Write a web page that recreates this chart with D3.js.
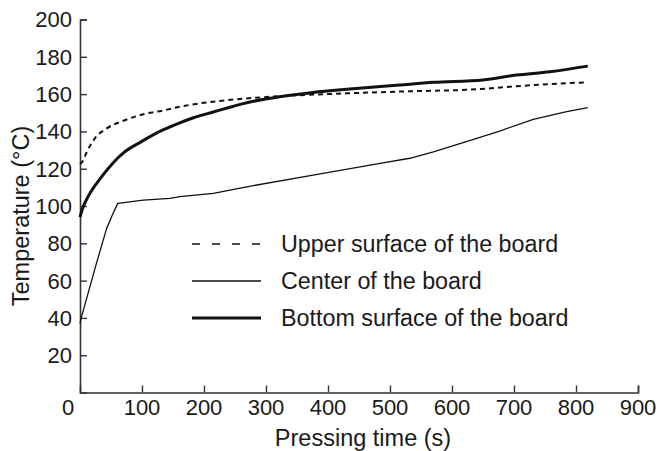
<!DOCTYPE html>
<html>
<head>
<meta charset="utf-8">
<script src="https://cdn.jsdelivr.net/npm/d3@7"></script>
<style>
  html, body { margin: 0; padding: 0; background: #fff; }
  svg { display: block; font-family: "Liberation Sans", Arial, sans-serif; }
</style>
</head>
<body>
<svg id="chart" width="660" height="451"></svg>
<script>
// Temperature readings during hot pressing (time in s, temperature in °C)
const upperTime = [0, 4, 11, 24, 43, 70, 102, 134, 161, 177, 230, 295, 430, 543, 623, 730, 815];
const upperTemp = [122.5, 123.8, 129, 136.3, 141.6, 145.7, 149.2, 151.2, 153.2, 154.2, 156.5, 158.3, 160.4, 161.6, 162.3, 164.8, 166.3];

const centerTime = [0, 2, 25, 43, 52, 61, 102, 145, 161, 215, 269, 376, 484, 532, 570, 623, 677, 731, 785, 819];
const centerTemp = [37, 40, 67.5, 88, 95, 101.4, 103.2, 104.1, 105, 106.8, 110.3, 116.6, 122.9, 125.6, 129, 134.5, 140.2, 146.5, 150.6, 152.7];

const bottomTime = [0, 4, 13, 35, 70, 99, 132, 161, 183, 215, 269, 322, 376, 430, 516, 570, 650, 704, 758, 819];
const bottomTemp = [94, 98.5, 105, 115.7, 128.5, 134.5, 140.5, 144.6, 147.3, 150.4, 155.4, 158.6, 160.9, 162.6, 164.9, 166.3, 167.6, 170.2, 172, 175];

const seriesNames = ["Upper surface of the board", "Center of the board", "Bottom surface of the board"];
const xTicks = [100, 200, 300, 400, 500, 600, 700, 800, 900];
const yTicks = [20, 40, 60, 80, 100, 120, 140, 160, 180, 200];

const svg = d3.select("#chart");
const ink = "#1a1a1a";

const x = d3.scaleLinear().domain([0, 900]).range([80, 638]);
const y = d3.scaleLinear().domain([0, 200]).range([392.5, 19.5]);

// Axes: ticks point into the plot area
const xAxis = svg.append("g")
  .attr("transform", `translate(0,${y(0)})`)
  .call(d3.axisTop(x).tickValues(xTicks).tickSize(7).tickFormat(""));
const yAxis = svg.append("g")
  .attr("transform", `translate(${x(0)},0)`)
  .call(d3.axisRight(y).tickValues(yTicks).tickSize(7).tickFormat(""));
[xAxis, yAxis].forEach(g => {
  g.select(".domain").attr("stroke", "#333").attr("stroke-width", 1.6);
  g.selectAll(".tick line").attr("stroke", "#333").attr("stroke-width", 1.4);
});

// Tick labels
svg.append("g").selectAll("text").data(xTicks).join("text")
  .attr("x", d => x(d)).attr("y", 415)
  .attr("text-anchor", "middle")
  .attr("font-size", 22).attr("fill", ink)
  .text(d => d);
svg.append("text")
  .attr("x", x(0) - 12).attr("y", 415)
  .attr("text-anchor", "middle")
  .attr("font-size", 22).attr("fill", ink)
  .text("0");
svg.append("g").selectAll("text").data(yTicks).join("text")
  .attr("x", 72).attr("y", d => y(d))
  .attr("dy", "0.36em")
  .attr("text-anchor", "end")
  .attr("font-size", 22).attr("fill", ink)
  .text(d => d);

// Axis titles
svg.append("text")
  .attr("x", 363).attr("y", 446)
  .attr("text-anchor", "middle")
  .attr("font-size", 23.5).attr("fill", ink)
  .text("Pressing time (s)");
svg.append("text")
  .attr("transform", "translate(29,216) rotate(-90)")
  .attr("text-anchor", "middle")
  .attr("font-size", 23.5).attr("fill", ink)
  .text("Temperature (°C)");

// Curves
const smooth = d3.line().x(d => x(d[0])).y(d => y(d[1])).curve(d3.curveMonotoneX);
const straight = d3.line().x(d => x(d[0])).y(d => y(d[1]));
const styles = [
  { width: 2, dash: "5,4", gen: smooth },
  { width: 1.3, dash: null, gen: straight },
  { width: 3, dash: null, gen: smooth }
];
const series = [
  d3.zip(upperTime, upperTemp),
  d3.zip(centerTime, centerTemp),
  d3.zip(bottomTime, bottomTemp)
];
series.forEach((pts, i) => {
  svg.append("path")
    .datum(pts)
    .attr("d", styles[i].gen)
    .attr("fill", "none")
    .attr("stroke", "#111")
    .attr("stroke-width", styles[i].width)
    .attr("stroke-dasharray", styles[i].dash)
    .attr("stroke-linejoin", "round");
});

// Legend
const legendStyles = [
  { width: 1.4, dash: "8,12" },
  { width: 1.3, dash: null },
  { width: 3, dash: null }
];
const legend = svg.append("g").selectAll("g").data(seriesNames).join("g")
  .attr("transform", (d, i) => `translate(0,${244 + i * 37})`);
legend.append("line")
  .attr("x1", 192).attr("x2", 261).attr("y1", 0).attr("y2", 0)
  .attr("stroke", "#111")
  .attr("stroke-width", (d, i) => legendStyles[i].width)
  .attr("stroke-dasharray", (d, i) => legendStyles[i].dash);
legend.append("text")
  .attr("x", 281).attr("y", 0).attr("dy", "0.36em")
  .attr("font-size", 23.3).attr("fill", ink)
  .text(d => d);
</script>
</body>
</html>
